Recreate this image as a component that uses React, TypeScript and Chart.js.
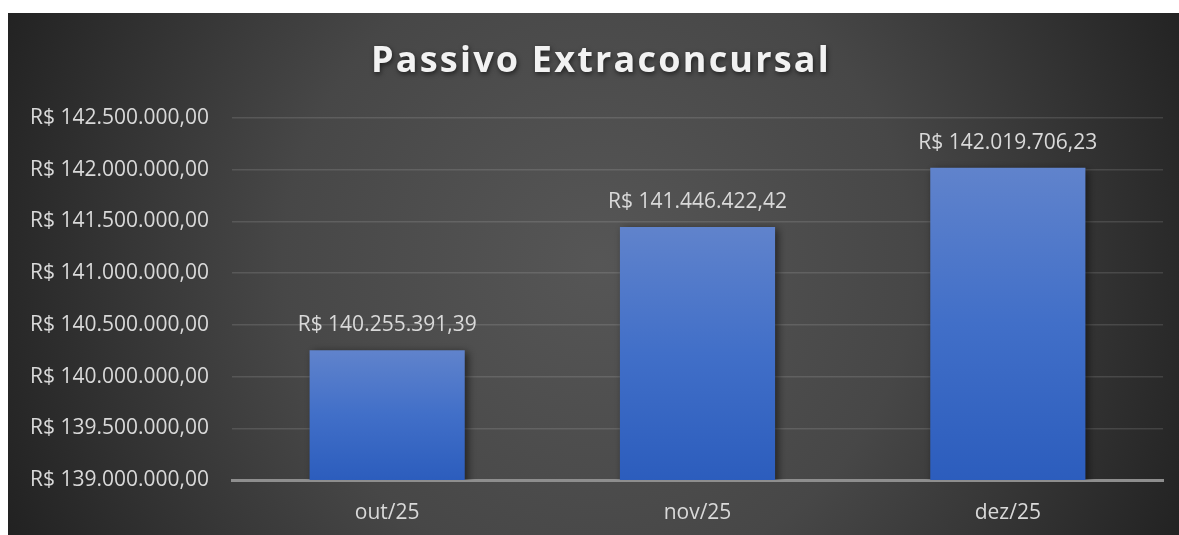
import React, { useEffect, useRef } from "react";
import { Chart, registerables } from "chart.js";

Chart.register(...registerables);

const categories = ["out/25", "nov/25", "dez/25"];
const values = [140255391.39, 141446422.42, 142019706.23];
const yMin = 139000000;
const yMax = 142500000;
const yStep = 500000;
const titleText = "Passivo Extraconcursal";

const W = 1171;
const H = 522;
const FONT = "'Open Sans', 'Noto Sans', sans-serif";

const fmt = (v: number) =>
  "R$ " +
  v.toLocaleString("pt-BR", { minimumFractionDigits: 2, maximumFractionDigits: 2 });

const bgPlugin = {
  id: "bgPlugin",
  beforeDraw(chart: any) {
    const ctx = chart.ctx;
    ctx.save();
    const g = ctx.createRadialGradient(590, 250, 0, 590, 250, 700);
    g.addColorStop(0, "#565656");
    g.addColorStop(0.45, "#474747");
    g.addColorStop(1, "#1c1c1c");
    ctx.fillStyle = g;
    ctx.fillRect(0, 0, chart.width, chart.height);
    ctx.restore();
  },
};

const titlePlugin = {
  id: "titlePlugin",
  afterDraw(chart: any) {
    const ctx = chart.ctx;
    ctx.save();
    ctx.font = `bold 36px ${FONT}`;
    (ctx as any).letterSpacing = "2.2px";
    ctx.textAlign = "center";
    ctx.textBaseline = "middle";
    ctx.shadowColor = "rgba(0,0,0,0.6)";
    ctx.shadowBlur = 5;
    ctx.shadowOffsetX = 1;
    ctx.shadowOffsetY = 2;
    ctx.fillStyle = "#f2f2f2";
    ctx.fillText(titleText, 593, 49);
    ctx.restore();
  },
};

const shadowPlugin = {
  id: "shadowPlugin",
  beforeDatasetsDraw(chart: any) {
    const ctx = chart.ctx;
    ctx.save();
    ctx.shadowColor = "rgba(0,0,0,0.55)";
    ctx.shadowBlur = 8;
    ctx.shadowOffsetX = 3;
    ctx.shadowOffsetY = 2;
  },
  afterDatasetsDraw(chart: any) {
    chart.ctx.restore();
    const ctx = chart.ctx;
    ctx.save();
    ctx.font = `21px ${FONT}`;
    ctx.fillStyle = "#d9d9d9";
    ctx.textAlign = "center";
    ctx.textBaseline = "middle";
    const meta = chart.getDatasetMeta(0);
    meta.data.forEach((el: any, i: number) => {
      ctx.fillText(fmt(values[i]), el.x, el.y - 25);
    });
    ctx.restore();
  },
};

export default function App() {
  const ref = useRef<HTMLCanvasElement>(null);
  useEffect(() => {
    if (!ref.current) return;
    const chart = new Chart(ref.current, {
      type: "bar",
      data: {
        labels: categories,
        datasets: [
          {
            data: values,
            backgroundColor: (c: any) => {
              const ch = c.chart;
              const y = ch.scales && ch.scales.y;
              if (!y || c.raw == null) return "#4472c4";
              const top = y.getPixelForValue(c.raw);
              const bottom = y.getPixelForValue(yMin);
              if (!isFinite(top) || !isFinite(bottom) || top === bottom) return "#4472c4";
              const g = ch.ctx.createLinearGradient(0, top, 0, bottom);
              g.addColorStop(0, "#6083cc");
              g.addColorStop(0.5, "#416fc8");
              g.addColorStop(1, "#2c5dbd");
              return g;
            },
            borderWidth: 0,
            barPercentage: 0.5,
            categoryPercentage: 1,
          },
        ],
      },
      options: {
        responsive: false,
        animation: false,
        layout: { padding: { top: 105, right: 16, left: 0, bottom: 0 } },
        plugins: {
          legend: { display: false },
          title: { display: false },
          tooltip: { enabled: false },
        },
        scales: {
          x: {
            grid: { display: false, drawTicks: false },
            border: { display: true, color: "#8e8e8e", width: 3 },
            ticks: {
              color: "#d9d9d9",
              font: { family: FONT, size: 21 },
              padding: 20,
            },
            afterFit: (s: any) => {
              s.height = 55;
            },
          },
          y: {
            min: yMin,
            max: yMax,
            grid: {
              color: "rgba(255,255,255,0.12)",
              lineWidth: 1.5,
              drawTicks: false,
            },
            border: { display: false },
            ticks: {
              stepSize: yStep,
              color: "#d9d9d9",
              font: { family: FONT, size: 21 },
              padding: 23,
              callback: (v: any) => fmt(Number(v)),
            },
            afterFit: (s: any) => {
              s.width = 224;
            },
          },
        },
      },
      plugins: [bgPlugin, shadowPlugin, titlePlugin],
    } as any);
    return () => chart.destroy();
  }, []);
  return (
    <div style={{ position: "absolute", left: 8, top: 13, width: W, height: H }}>
      <canvas ref={ref} width={W} height={H} style={{ width: W, height: H, display: "block" }} />
    </div>
  );
}
